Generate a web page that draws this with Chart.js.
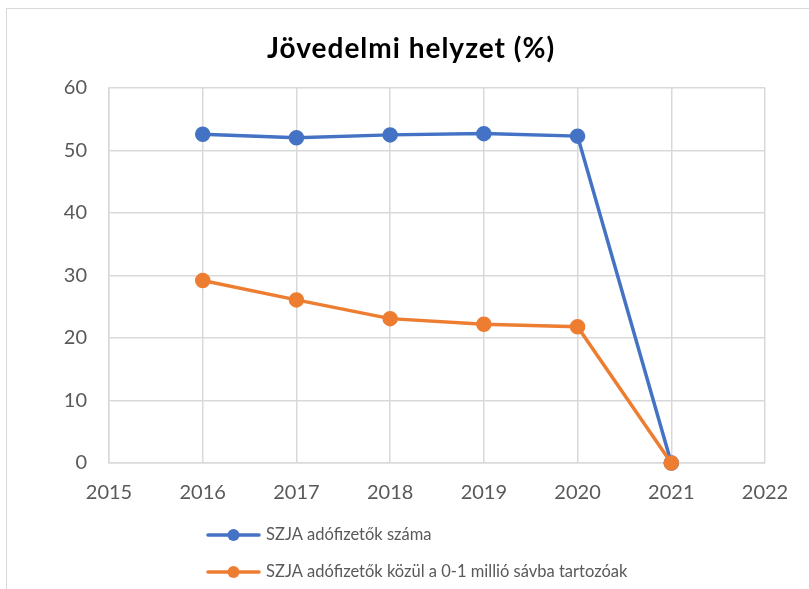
<!DOCTYPE html>
<html>
<head>
<meta charset="utf-8">
<script src="https://cdn.jsdelivr.net/npm/chart.js@4/dist/chart.umd.min.js"></script>
<style>
  html, body { margin: 0; padding: 0; background: #fff; overflow: hidden; width: 809px; height: 589px; }
  #wrap { position: absolute; left: 6px; top: 8px; width: 810px; height: 590px; border: 1px solid #d9d9d9; background: #fff; }
  canvas { display: block; }
</style>
</head>
<body>
<div id="wrap"><canvas id="c" width="810" height="590"></canvas></div>
<script>
const titleText = 'Jövedelmi helyzet (%)';
const years = [2016, 2017, 2018, 2019, 2020, 2021];
const seriesNames = ['SZJA adófizetők száma', 'SZJA adófizetők közül a 0-1 millió sávba tartozóak'];
const taxpayers = [52.6, 52.05, 52.5, 52.7, 52.3, 0];
const lowBand = [29.2, 26.1, 23.1, 22.2, 21.8, 0];
const colors = ['#4472C4', '#ED7D31'];

const toPoints = vals => years.map((y, i) => ({ x: y, y: vals[i] }));

const titleAndLegend = {
  id: 'titleAndLegend',
  afterDraw(chart) {
    const ctx = chart.ctx;
    // title
    ctx.save();
    ctx.fillStyle = '#000';
    ctx.font = 'bold 28px Lato';
    ctx.textBaseline = 'alphabetic';
    ctx.textAlign = 'left';
    const targetW = 287;
    ctx.letterSpacing = '0px';
    const w0 = ctx.measureText(titleText).width;
    const sp = Math.max(0, (targetW - w0) / (titleText.length - 1));
    ctx.letterSpacing = sp.toFixed(2) + 'px';
    ctx.fillText(titleText, 403.5 - targetW / 2, 49);
    ctx.restore();
    // legend
    const rows = [526, 563];
    chart.data.datasets.forEach((ds, i) => {
      const y = rows[i];
      ctx.save();
      ctx.strokeStyle = ds.borderColor;
      ctx.lineWidth = 3.5;
      ctx.lineCap = 'round';
      ctx.beginPath();
      ctx.moveTo(201, y);
      ctx.lineTo(252, y);
      ctx.stroke();
      ctx.fillStyle = ds.borderColor;
      ctx.beginPath();
      ctx.arc(226.5, y, 6, 0, Math.PI * 2);
      ctx.fill();
      ctx.fillStyle = '#595959';
      ctx.font = '16.5px Lato';
      ctx.textBaseline = 'middle';
      ctx.textAlign = 'left';
      ctx.fillText(ds.label, 259, y);
      ctx.restore();
    });
  }
};

new Chart(document.getElementById('c'), {
  type: 'line',
  data: {
    datasets: [
      { label: seriesNames[0], data: toPoints(taxpayers), borderColor: colors[0], backgroundColor: colors[0],
        borderWidth: 3.5, pointRadius: 6, pointHoverRadius: 6, tension: 0, order: 2, clip: false },
      { label: seriesNames[1], data: toPoints(lowBand), borderColor: colors[1], backgroundColor: colors[1],
        borderWidth: 3.5, pointRadius: 6, pointHoverRadius: 6, tension: 0, order: 1, clip: false }
    ]
  },
  options: {
    responsive: false,
    animation: false,
    layout: { padding: { top: 79, left: 0, right: 52, bottom: 86 } },
    plugins: {
      legend: { display: false },
      tooltip: { enabled: false },
      title: { display: false }
    },
    scales: {
      x: {
        type: 'linear',
        min: 2015, max: 2022,
        ticks: { stepSize: 1, color: '#595959', font: { family: 'Lato', size: 20 }, padding: 18,
                 callback: v => String(v), maxRotation: 0 },
        grid: { color: '#d9d9d9', lineWidth: 1.5, drawTicks: false },
        border: { color: '#d9d9d9', width: 1.5 },
        afterFit(s) { s.height = 50; }
      },
      y: {
        min: 0, max: 60,
        ticks: { stepSize: 10, color: '#595959', font: { family: 'Lato', size: 20 }, padding: 22 },
        grid: { color: '#d9d9d9', lineWidth: 1.5, drawTicks: false },
        border: { color: '#d9d9d9', width: 1.5 },
        afterFit(s) { s.width = 102; }
      }
    }
  },
  plugins: [titleAndLegend]
});
</script>
</body>
</html>
